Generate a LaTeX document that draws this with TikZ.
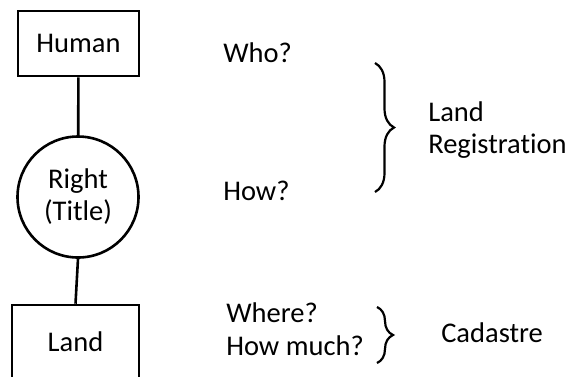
\documentclass[tikz,border=0pt]{standalone}
\usepackage{fontspec}
\setmainfont[Ligatures=NoCommon]{Carlito}
\usetikzlibrary{decorations.pathreplacing}

\begin{document}
\begin{tikzpicture}[x=1pt, y=-1pt, line width=2.6pt,
    font=\fontsize{28.5}{32}\selectfont,
    box/.style={rectangle, draw, minimum width=121pt, minimum height=65pt},
    ask/.style={anchor=base west, inner sep=0pt},
    brc/.style={decorate, decoration={brace, amplitude=#1}, line width=2.2pt}]
  \useasboundingbox (0,0) rectangle (573,376);

  \node[box] (H) at (78.5,43.5) {Human};
  \node[circle, draw, minimum size=121pt, align=center] (R) at (78,197) {Right\\(Title)};
  \node[box, minimum width=127pt, minimum height=74pt] (L) at (75.5,342) {Land};
  \draw (H) -- (R);
  \draw (R.south) -- (L.north);

  \node[ask] (who) at (222,62) {Who?};
  \node[ask] (how) at (222,200) {How?};
  \node[ask] (where) at (225,322) {Where?};
  \node[ask] (much) at (225,355) {How much?};

  \coordinate (b1) at (375,63);
  \coordinate (e1) at (375,192);
  \draw[brc=19pt] (b1) -- (e1);
  \node[anchor=west, align=left, inner sep=0pt] (reg) at (427,130) {Land\\Registration};

  \coordinate (b2) at (377,307);
  \coordinate (e2) at (377,363);
  \draw[brc=16pt] (b2) -- (e2);
  \node[ask] (cad) at (440,342) {Cadastre};
\end{tikzpicture}
\end{document}
